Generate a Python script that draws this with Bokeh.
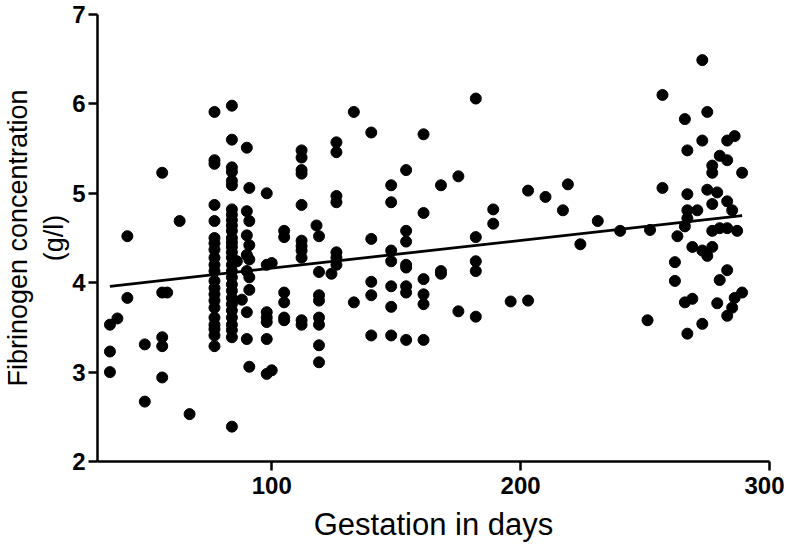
from bokeh.plotting import figure
from bokeh.models import Range1d, FixedTicker
from bokeh.embed import file_html
from bokeh.resources import INLINE

# Gestation (days) and fibrinogen concentration (g/l)
gestation_days = (
    [35, 35, 35, 38, 42, 42, 49, 49]
    + [56] * 5 + [58, 63, 67]
    + [77] * 21
    + [84] * 29
    + [86, 88]
    + [90] * 7 + [91] * 7
    + [98] * 7 + [100] * 2
    + [105] * 6 + [112] * 11 + [118] + [119] * 8 + [124]
    + [126] * 7 + [133] * 2 + [140] * 5 + [148] * 7 + [154] * 8
    + [161] * 6 + [168] * 3 + [175] * 2 + [182] * 5 + [189] * 2
    + [196] + [203] * 2 + [210, 217, 219, 224, 231, 240, 251, 252]
    + [257] * 2 + [262] * 2 + [263] + [266] * 3 + [267] * 5 + [269] * 2
    + [271] + [273] * 4 + [275] * 3 + [277] * 5 + [279] * 2 + [280] * 3
    + [283] * 6 + [285] * 2 + [286] * 2 + [287] + [289] * 2
)
fibrinogen = (
    [3.53, 3.23, 3.0, 3.6, 3.83, 4.52, 3.31, 2.67]
    + [5.23, 3.89, 3.39, 3.29, 2.94] + [3.89, 4.69, 2.53]
    + [5.91, 5.37, 5.33, 4.87, 4.69, 4.5, 4.44, 4.37, 4.28, 4.2, 4.13,
       4.02, 3.94, 3.87, 3.8, 3.72, 3.61, 3.53, 3.48, 3.41, 3.29]
    + [5.98, 5.6, 5.29, 5.24, 5.14, 5.09, 4.82, 4.76, 4.7, 4.64, 4.58,
       4.5, 4.45, 4.4, 4.34, 4.28, 4.2, 4.13, 4.06, 3.98, 3.91, 3.83,
       3.76, 3.69, 3.61, 3.53, 3.47, 3.39, 2.39]
    + [4.24, 3.81]
    + [5.51, 4.8, 4.53, 4.31, 4.13, 3.67, 3.37]
    + [5.06, 4.69, 4.42, 4.26, 4.06, 3.92, 3.06]
    + [5.0, 4.2, 3.67, 3.61, 3.56, 3.37, 2.98] + [4.22, 3.02]
    + [4.58, 4.51, 3.89, 3.78, 3.61, 3.58]
    + [5.48, 5.4, 5.26, 5.22, 4.87, 4.47, 4.41, 4.36, 4.28, 3.58, 3.53]
    + [4.64]
    + [4.52, 4.12, 3.86, 3.8, 3.61, 3.53, 3.3, 3.11]
    + [4.1]
    + [5.57, 5.46, 4.97, 4.9, 4.34, 4.28, 4.2]
    + [5.91, 3.78]
    + [5.68, 4.49, 4.01, 3.86, 3.41]
    + [5.09, 4.9, 4.36, 4.24, 3.96, 3.73, 3.41]
    + [5.26, 4.58, 4.46, 4.2, 4.17, 3.96, 3.89, 3.36]
    + [5.66, 4.78, 4.04, 3.87, 3.76, 3.36]
    + [5.09, 4.13, 4.1]
    + [5.19, 3.68]
    + [6.06, 4.51, 4.24, 4.13, 3.62]
    + [4.82, 4.66]
    + [3.79] + [5.03, 3.8] + [4.96, 4.81, 5.1, 4.43, 4.69, 4.58, 3.58, 4.59]
    + [6.1, 5.06] + [4.23, 4.02] + [4.52] + [5.83, 4.63, 3.78]
    + [5.48, 4.99, 4.81, 4.72, 3.43] + [4.4, 3.82]
    + [4.81] + [6.49, 5.59, 4.36, 3.54] + [5.91, 5.04, 4.3]
    + [5.31, 5.23, 4.88, 4.58, 4.4] + [5.01, 3.77] + [5.42, 4.61, 4.03]
    + [5.59, 5.37, 4.91, 4.61, 4.14, 3.63] + [4.81, 3.72] + [5.64, 3.83]
    + [4.58] + [5.23, 3.89]
)

# Regression line
line_days = [35, 289]
line_values = [3.96, 4.75]

x_ticks = [100, 200, 300]
y_ticks = [2, 3, 4, 5, 6, 7]

p = figure(width=784, height=544, output_backend="svg", toolbar_location=None,
           x_range=Range1d(30, 300), y_range=Range1d(2, 7),
           min_border_left=89, min_border_right=15, min_border_top=14,
           min_border_bottom=80)

p.scatter(gestation_days, fibrinogen, size=11, marker="circle",
          fill_color="black", line_color="black")
p.line(line_days, line_values, line_width=2.8, line_color="black")

p.grid.visible = False
p.outline_line_color = None
p.background_fill_color = "white"

for ax in (p.xaxis[0], p.yaxis[0]):
    ax.axis_line_width = 2.5
    ax.axis_line_color = "black"
    ax.major_tick_line_width = 2.5
    ax.major_tick_line_color = "black"
    ax.major_tick_out = 9
    ax.major_tick_in = 0
    ax.minor_tick_line_color = None
    ax.major_label_text_font = "Liberation Sans"
    ax.major_label_text_font_style = "bold"
    ax.major_label_text_font_size = "24px"
    ax.major_label_text_color = "black"
    ax.axis_label_text_font = "Liberation Sans"
    ax.axis_label_text_font_style = "normal"
    ax.axis_label_text_color = "black"

p.xaxis[0].ticker = FixedTicker(ticks=x_ticks)
p.yaxis[0].ticker = FixedTicker(ticks=y_ticks)
p.xaxis[0].major_label_standoff = 6
p.yaxis[0].major_label_standoff = 3
p.xaxis[0].axis_label = "Gestation in days"
p.xaxis[0].axis_label_text_font_size = "31px"
p.xaxis[0].axis_label_standoff = 10
p.yaxis[0].axis_label = "Fibrinogen concentration\n(g/l)"
p.yaxis[0].axis_label_text_font_size = "27px"
p.yaxis[0].axis_label_standoff = 0

open("out.html", "w").write(file_html(p, INLINE))
